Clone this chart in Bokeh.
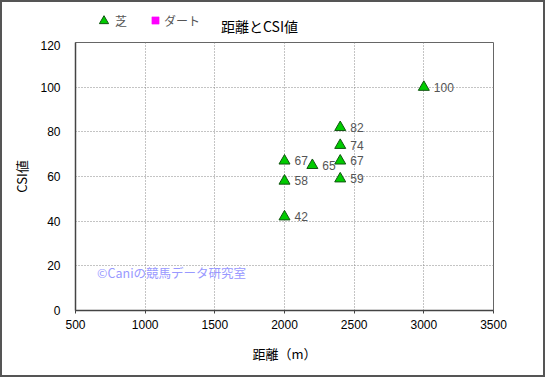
from bokeh.plotting import figure
from bokeh.layouts import column
from bokeh.models import ColumnDataSource, Legend, LegendItem, Label, Range1d, FixedTicker, LabelSet
from bokeh.core.properties import value
from bokeh.embed import file_html
from bokeh.resources import INLINE

distance = [2000, 2000, 2000, 2200, 2400, 2400, 2400, 2400, 3000]
csi = [67, 58, 42, 65, 82, 74, 67, 59, 100]
labels = [str(v) for v in csi]
dirt_distance = []
dirt_csi = []
x_ticks = [500, 1000, 1500, 2000, 2500, 3000, 3500]
y_ticks = [0, 20, 40, 60, 80, 100, 120]

JP = "Noto Sans CJK JP"
W = 541

src = ColumnDataSource(dict(x=distance, y=csi, t=labels))

# ---- header: title + legend (its frame is aligned with the main frame) ----
h = figure(width=W, height=38, output_backend="svg", toolbar_location=None,
           x_axis_location=None, y_axis_location=None,
           x_range=Range1d(75, 493), y_range=Range1d(0, 38),
           min_border_left=0, min_border_right=0, min_border_top=0, min_border_bottom=0)
h.title.visible = False
h.grid.visible = False
h.outline_line_color = None
h.border_fill_color = "white"
h.background_fill_color = "white"

# legend keys (renderers hidden; only their legend swatches are shown)
turf_key = h.scatter("x", "y", source=src, marker="triangle", size=9,
                     fill_color="#00cc00", line_color="#115511", line_width=1, visible=False)
dirt_key = h.scatter("x", "y", source=src, marker="square", size=7,
                     fill_color="#ff00ff", line_color="#ff00ff", line_width=0.5, visible=False)

leg1 = Legend(items=[LegendItem(label="芝", renderers=[turf_key])],
              location=(17, 8), border_line_color=None, background_fill_alpha=0,
              inactive_fill_alpha=0,
              label_text_font=JP, label_text_font_size="12px", label_text_color="#555555",
              glyph_width=23, glyph_height=23, padding=0, margin=0, label_standoff=-9)
leg2 = Legend(items=[LegendItem(label="ダート", renderers=[dirt_key])],
              location=(71, 11), border_line_color=None, background_fill_alpha=0,
              inactive_fill_alpha=0,
              label_text_font=JP, label_text_font_size="12px", label_text_color="#555555",
              glyph_width=18, glyph_height=18, padding=0, margin=0, label_standoff=-6)
h.add_layout(leg1)
h.add_layout(leg2)

title = Label(x=259, y=15, text="距離とCSI値", text_font=JP, text_font_size="14px",
              text_color="black", text_align="center", text_baseline="middle")
h.add_layout(title)

# ---- main chart ----
p = figure(width=W, height=335, output_backend="svg", toolbar_location=None,
           x_range=Range1d(500, 3500), y_range=Range1d(0, 120),
           min_border_left=73, min_border_right=50, min_border_top=2, min_border_bottom=65)
p.title.visible = False
p.outline_line_color = "#666666"
p.background_fill_color = "white"
p.border_fill_color = "white"

p.xaxis.ticker = FixedTicker(ticks=x_ticks)
p.yaxis.ticker = FixedTicker(ticks=y_ticks)
for ax in (p.xaxis[0], p.yaxis[0]):
    ax.axis_line_color = "#444444"
    ax.axis_line_width = 1.5
    ax.major_tick_line_color = "#444444"
    ax.major_tick_out = 3
    ax.major_tick_in = 0
    ax.minor_tick_line_color = None
    ax.major_label_text_font = "Liberation Sans"
    ax.major_label_text_font_size = "12px"
    ax.major_label_text_color = "black"
    ax.axis_label_text_font = JP
    ax.axis_label_text_font_size = "13px"
    ax.axis_label_text_font_style = "normal"
    ax.axis_label_text_color = "black"
p.yaxis.major_tick_line_color = None
p.xaxis.axis_label = "距離（m）"
p.yaxis.axis_label = "CSI値"
p.xaxis.axis_label_standoff = 12
p.yaxis.axis_label_standoff = 6
p.xaxis.major_label_standoff = 6
p.yaxis.major_label_standoff = 12

p.grid.grid_line_color = "#888888"
p.grid.grid_line_dash = "1 2"
p.grid.grid_line_width = 1

p.scatter("x", "y", source=src, marker="triangle", size=11,
          fill_color="#00cc00", line_color="#115511", line_width=1)
p.scatter(x=dirt_distance, y=dirt_csi, marker="square", size=8,
          fill_color="#ff00ff", line_color="#ff00ff")

ls = LabelSet(x="x", y="y", text="t", source=src, x_offset=10, y_offset=0,
              text_baseline="middle", text_font_size="12px", text_color="#555555",
              text_font=value("Liberation Sans"))
p.add_layout(ls)

wm = Label(x=655, y=17, text="©Caniの競馬データ研究室", text_font=JP,
           text_font_size="12.5px", text_color="#9999ff", text_baseline="middle")
p.add_layout(wm)

layout = column(h, p, spacing=0)
layout.styles = {"border": "2px solid #555"}

open("out.html", "w").write(file_html(layout, INLINE))
